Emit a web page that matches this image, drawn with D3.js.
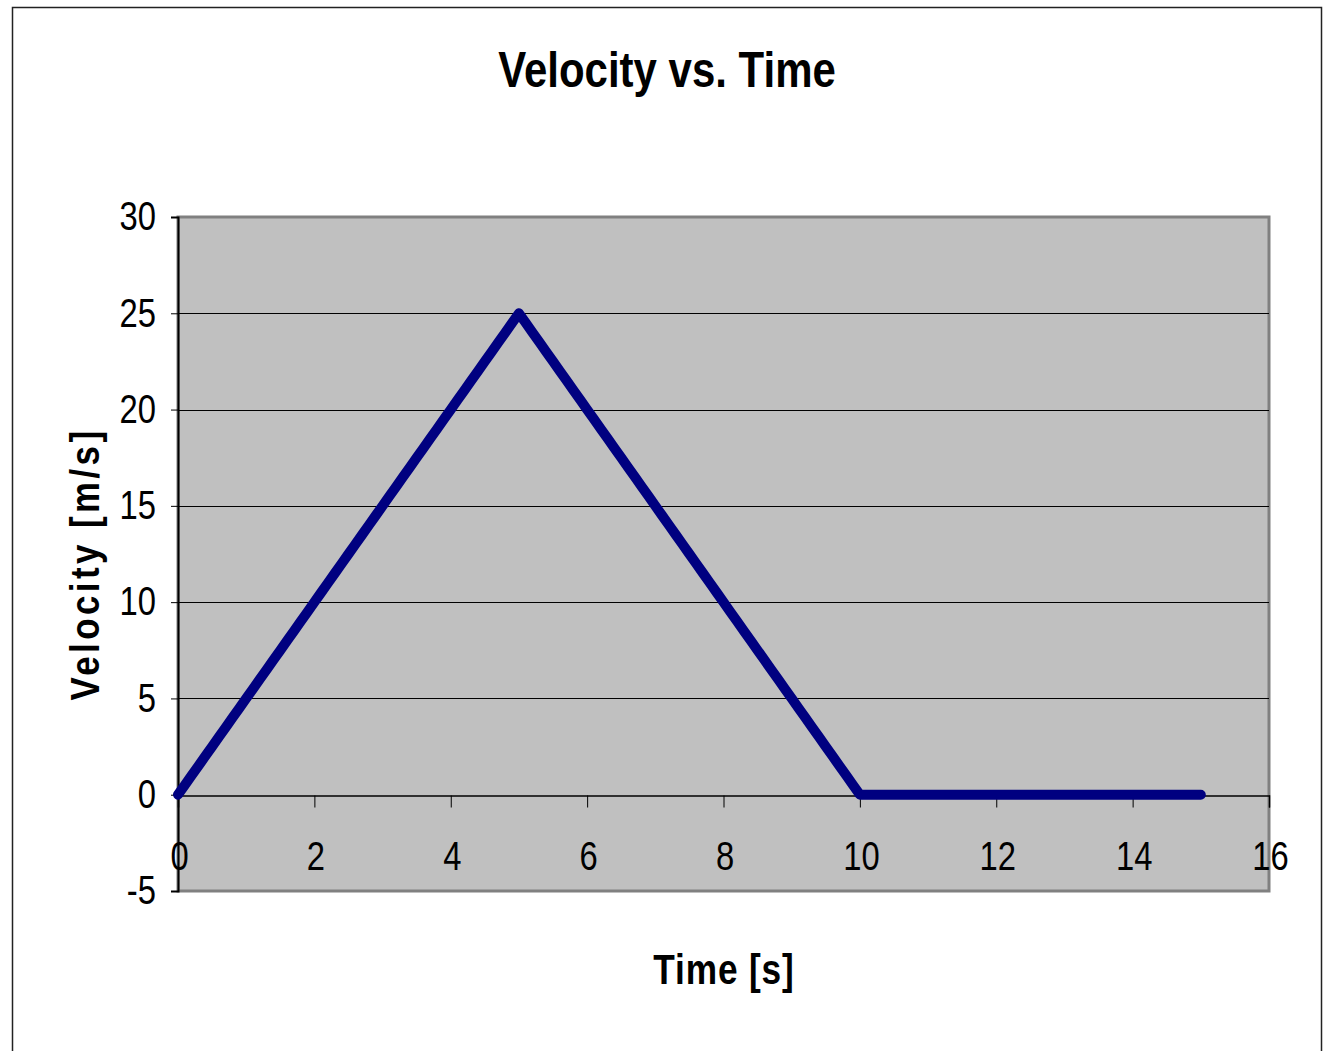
<!DOCTYPE html>
<html>
<head>
<meta charset="utf-8">
<script src="https://cdn.jsdelivr.net/npm/d3@7"></script>
<style>
    body { margin: 0; background: #fff; }
    text { font-family: 'Liberation Sans Narrow', 'Arial Narrow', 'Liberation Sans', sans-serif; }
</style>
</head>
<body>
<div id="container"></div>
<script>
'use strict';

const w = 1329;
const h = 1051;

// time in seconds, sampled every 0.1 s
const times = [
    0.0, 0.1, 0.2, 0.3, 0.4, 0.5, 0.6, 0.7, 0.8, 0.9,
    1.0, 1.1, 1.2, 1.3, 1.4, 1.5, 1.6, 1.7, 1.8, 1.9,
    2.0, 2.1, 2.2, 2.3, 2.4, 2.5, 2.6, 2.7, 2.8, 2.9,
    3.0, 3.1, 3.2, 3.3, 3.4, 3.5, 3.6, 3.7, 3.8, 3.9,
    4.0, 4.1, 4.2, 4.3, 4.4, 4.5, 4.6, 4.7, 4.8, 4.9,
    5.0, 5.1, 5.2, 5.3, 5.4, 5.5, 5.6, 5.7, 5.8, 5.9,
    6.0, 6.1, 6.2, 6.3, 6.4, 6.5, 6.6, 6.7, 6.8, 6.9,
    7.0, 7.1, 7.2, 7.3, 7.4, 7.5, 7.6, 7.7, 7.8, 7.9,
    8.0, 8.1, 8.2, 8.3, 8.4, 8.5, 8.6, 8.7, 8.8, 8.9,
    9.0, 9.1, 9.2, 9.3, 9.4, 9.5, 9.6, 9.7, 9.8, 9.9,
    10.0, 10.1, 10.2, 10.3, 10.4, 10.5, 10.6, 10.7, 10.8, 10.9,
    11.0, 11.1, 11.2, 11.3, 11.4, 11.5, 11.6, 11.7, 11.8, 11.9,
    12.0, 12.1, 12.2, 12.3, 12.4, 12.5, 12.6, 12.7, 12.8, 12.9,
    13.0, 13.1, 13.2, 13.3, 13.4, 13.5, 13.6, 13.7, 13.8, 13.9,
    14.0, 14.1, 14.2, 14.3, 14.4, 14.5, 14.6, 14.7, 14.8, 14.9,
    15.0
];

// velocity in m/s
const velocities = [
    0, 0.5, 1, 1.5, 2, 2.5, 3, 3.5, 4, 4.5,
    5, 5.5, 6, 6.5, 7, 7.5, 8, 8.5, 9, 9.5,
    10, 10.5, 11, 11.5, 12, 12.5, 13, 13.5, 14, 14.5,
    15, 15.5, 16, 16.5, 17, 17.5, 18, 18.5, 19, 19.5,
    20, 20.5, 21, 21.5, 22, 22.5, 23, 23.5, 24, 24.5,
    25, 24.5, 24, 23.5, 23, 22.5, 22, 21.5, 21, 20.5,
    20, 19.5, 19, 18.5, 18, 17.5, 17, 16.5, 16, 15.5,
    15, 14.5, 14, 13.5, 13, 12.5, 12, 11.5, 11, 10.5,
    10, 9.5, 9, 8.5, 8, 7.5, 7, 6.5, 6, 5.5,
    5, 4.5, 4, 3.5, 3, 2.5, 2, 1.5, 1, 0.5,
    0, 0, 0, 0, 0, 0, 0, 0, 0, 0,
    0, 0, 0, 0, 0, 0, 0, 0, 0, 0,
    0, 0, 0, 0, 0, 0, 0, 0, 0, 0,
    0, 0, 0, 0, 0, 0, 0, 0, 0, 0,
    0, 0, 0, 0, 0, 0, 0, 0, 0, 0,
    0
];

const xTicks = [0, 2, 4, 6, 8, 10, 12, 14, 16];
const yTicks = [-5, 0, 5, 10, 15, 20, 25, 30];

const plot = { left: 178, right: 1269, top: 217, bottom: 891 };
// no narrow font installed, so squeeze the regular one
const narrow = 0.82;

const svg = d3.select('#container')
                .append('svg')
                .attr('width', w)
                .attr('height', h);

// chart frame
svg.append('rect')
    .attr('x', 12.5)
    .attr('y', 7.5)
    .attr('width', 1309)
    .attr('height', 1060)
    .attr('fill', '#fff')
    .attr('stroke', '#222')
    .attr('stroke-width', 1.5);

const xScale = d3.scaleLinear()
                    .domain([0, 16])
                    .range([plot.left, plot.right]);
const yScale = d3.scaleLinear()
                    .domain([-5, 30])
                    .range([plot.bottom, plot.top]);

// plot area
svg.append('rect')
    .attr('x', plot.left)
    .attr('y', plot.top)
    .attr('width', plot.right - plot.left)
    .attr('height', plot.bottom - plot.top)
    .attr('fill', '#c0c0c0')
    .attr('stroke', '#808080')
    .attr('stroke-width', 3);

// gridlines
svg.append('g')
    .selectAll('line')
    .data(yTicks.filter((d) => d > -5 && d < 30 && d !== 0))
    .enter()
    .append('line')
    .attr('x1', plot.left)
    .attr('x2', plot.right)
    .attr('y1', (d) => Math.round(yScale(d)) + 0.5)
    .attr('y2', (d) => Math.round(yScale(d)) + 0.5)
    .attr('stroke', '#000')
    .attr('stroke-width', 1);

// y axis
const yAxis = d3.axisLeft(yScale)
                .tickValues(yTicks)
                .tickSize(7)
                .tickPadding(0)
                .tickFormat((d) => String(d));
const gy = svg.append('g')
    .attr('id', 'y-axis')
    .attr('transform', 'translate(' + plot.left + ', 0)')
    .call(yAxis);
gy.select('.domain').attr('stroke', '#000').attr('stroke-width', 2);
gy.selectAll('.tick line').attr('stroke', '#000');
gy.selectAll('.tick text')
    .attr('font-size', 40)
    .attr('fill', '#000')
    .attr('x', 0)
    .attr('transform', 'translate(-22, 0) scale(' + narrow + ', 1)');

// x axis sits on v = 0
const xAxis = d3.axisBottom(xScale)
                .tickValues(xTicks)
                .tickSize(12)
                .tickPadding(0)
                .tickFormat((d) => String(d));
const gx = svg.append('g')
    .attr('id', 'x-axis')
    .attr('transform', 'translate(0, ' + (Math.round(yScale(0)) + 0.5) + ')')
    .call(xAxis);
gx.select('.domain').attr('stroke', '#000').attr('stroke-width', 1.5);
gx.selectAll('.tick line').attr('stroke', '#000');
gx.selectAll('.tick text')
    .attr('font-size', 40)
    .attr('fill', '#000')
    .attr('y', 0)
    .attr('dy', 0)
    .attr('transform', 'translate(1, 74) scale(' + narrow + ', 1)');

// velocity line
const line = d3.line()
                .x((d, i) => xScale(times[i]))
                .y((d) => yScale(d));

svg.append('path')
    .datum(velocities)
    .attr('d', line)
    .attr('fill', 'none')
    .attr('stroke', '#000080')
    .attr('stroke-width', 10)
    .attr('stroke-linejoin', 'round')
    .attr('stroke-linecap', 'round');

// title and axis labels
svg.append('text')
    .text('Velocity vs. Time')
    .attr('text-anchor', 'middle')
    .attr('transform', 'translate(667, 87) scale(0.84, 1)')
    .attr('font-size', 50)
    .attr('font-weight', 'bold');

svg.append('text')
    .text('Time [s]')
    .attr('text-anchor', 'middle')
    .attr('transform', 'translate(724, 984) scale(0.84, 1)')
    .attr('font-size', 42)
    .attr('font-weight', 'bold')
    .attr('letter-spacing', 1);

svg.append('text')
    .text('Velocity [m/s]')
    .attr('text-anchor', 'middle')
    .attr('transform', 'translate(99, 564) rotate(-90) scale(0.87, 1)')
    .attr('font-size', 40)
    .attr('font-weight', 'bold')
    .attr('letter-spacing', 4);
</script>
</body>
</html>
